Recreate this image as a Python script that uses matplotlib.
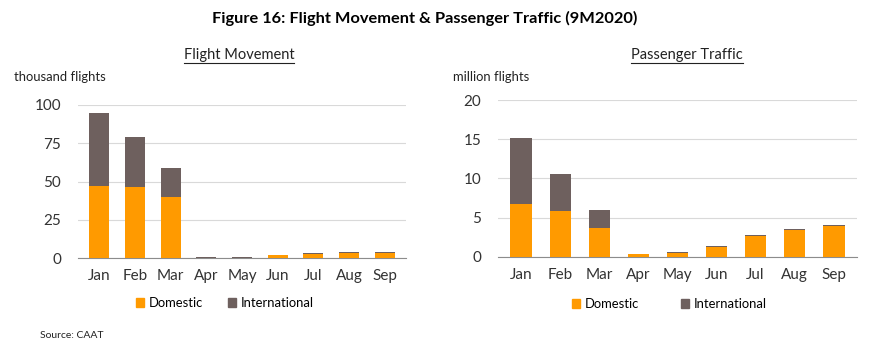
import matplotlib
matplotlib.use("Agg")
import matplotlib.pyplot as plt
from matplotlib.lines import Line2D
from matplotlib.patches import Patch
import numpy as np

months = ["Jan", "Feb", "Mar", "Apr", "May", "Jun", "Jul", "Aug", "Sep"]
flight_domestic = [47.2, 46.5, 40.0, 0.5, 0.5, 2.0, 3.0, 3.6, 3.6]
flight_international = [47.4, 32.8, 18.7, 0.4, 0.3, 0.2, 0.3, 0.3, 0.3]
pax_domestic = [6.7, 5.8, 3.65, 0.3, 0.5, 1.3, 2.7, 3.4, 3.9]
pax_international = [8.5, 4.8, 2.25, 0.04, 0.05, 0.06, 0.07, 0.1, 0.1]

plt.rcParams['font.family'] = ['Lato', 'DejaVu Sans']
ORANGE = '#FF9A00'
DARK = '#6E605E'
GRID = '#D9D9D9'

fig = plt.figure(figsize=(8.7, 3.5), dpi=100)
W, H = 870, 350

def add_ax(x0, y0, x1, y1):
    return fig.add_axes([x0 / W, 1 - y1 / H, (x1 - x0) / W, (y1 - y0) / H])

ax1 = add_ax(78, 105, 406, 258.3)
ax2 = add_ax(498, 100, 857, 256.7)

def draw(ax, dom, intl, ymax, step):
    x = np.arange(len(months))
    ax.bar(x, dom, width=0.56, color=ORANGE, zorder=3, label="Domestic")
    ax.bar(x, intl, width=0.56, bottom=dom, color=DARK, zorder=3, label="International")
    ax.set_ylim(0, ymax)
    ax.set_xlim(-0.6, len(months) - 0.4)
    ax.set_yticks(np.arange(0, ymax + step / 2, step))
    ax.yaxis.grid(True, color=GRID, linewidth=0.8, zorder=0)
    ax.set_axisbelow(True)
    for s in ['top', 'right', 'left']:
        ax.spines[s].set_visible(False)
    ax.spines['bottom'].set_color('#8C8C8C')
    ax.set_xticks(x)
    ax.set_xticklabels(months)
    ax.tick_params(axis='both', length=0, labelsize=11, colors='#333333', pad=8)
    ax.tick_params(axis='y', pad=12)

draw(ax1, flight_domestic, flight_international, 100, 25)
draw(ax2, pax_domestic, pax_international, 20, 5)

fig.text(425 / W, 1 - 18 / H, "Figure 16: Flight Movement & Passenger Traffic (9M2020)",
         ha='center', va='center', fontsize=11.8, fontweight='bold')

subs = []
subs.append(fig.text(239 / W, 1 - 55 / H, "Flight Movement", ha='center', va='center', fontsize=10.5, color='#222222'))
subs.append(fig.text(687 / W, 1 - 55 / H, "Passenger Traffic", ha='center', va='center', fontsize=10.5, color='#222222'))

fig.text(14 / W, 1 - 77 / H, "thousand flights", ha='left', va='center', fontsize=9.4, color='#222222')
fig.text(453 / W, 1 - 77 / H, "million flights", ha='left', va='center', fontsize=9.4, color='#222222')
fig.text(40 / W, 1 - 335 / H, "Source: CAAT", ha='left', va='center', fontsize=7.5, color='#222222')

handles = [Patch(color=ORANGE, label="Domestic"), Patch(color=DARK, label="International")]
fig.legend(handles=handles, loc='center', bbox_to_anchor=(225 / W, 1 - 303 / H), ncol=2,
           frameon=False, fontsize=9.4, handlelength=0.6, handleheight=0.6, columnspacing=1.9,
           handletextpad=0.4, borderpad=0, borderaxespad=0)
fig.legend(handles=handles, loc='center', bbox_to_anchor=(669.5 / W, 1 - 304 / H), ncol=2,
           frameon=False, fontsize=9.4, handlelength=0.6, handleheight=0.6, columnspacing=3.2,
           handletextpad=0.4, borderpad=0, borderaxespad=0)

fig.canvas.draw()
r = fig.canvas.get_renderer()
for t in subs:
    bb = t.get_window_extent(renderer=r).transformed(fig.transFigure.inverted())
    y = bb.y0 - 1.0 / H
    fig.add_artist(Line2D([bb.x0, bb.x1], [y, y], transform=fig.transFigure, color='#222222', linewidth=0.8))

fig.savefig("out.png", dpi=100, facecolor='white')
